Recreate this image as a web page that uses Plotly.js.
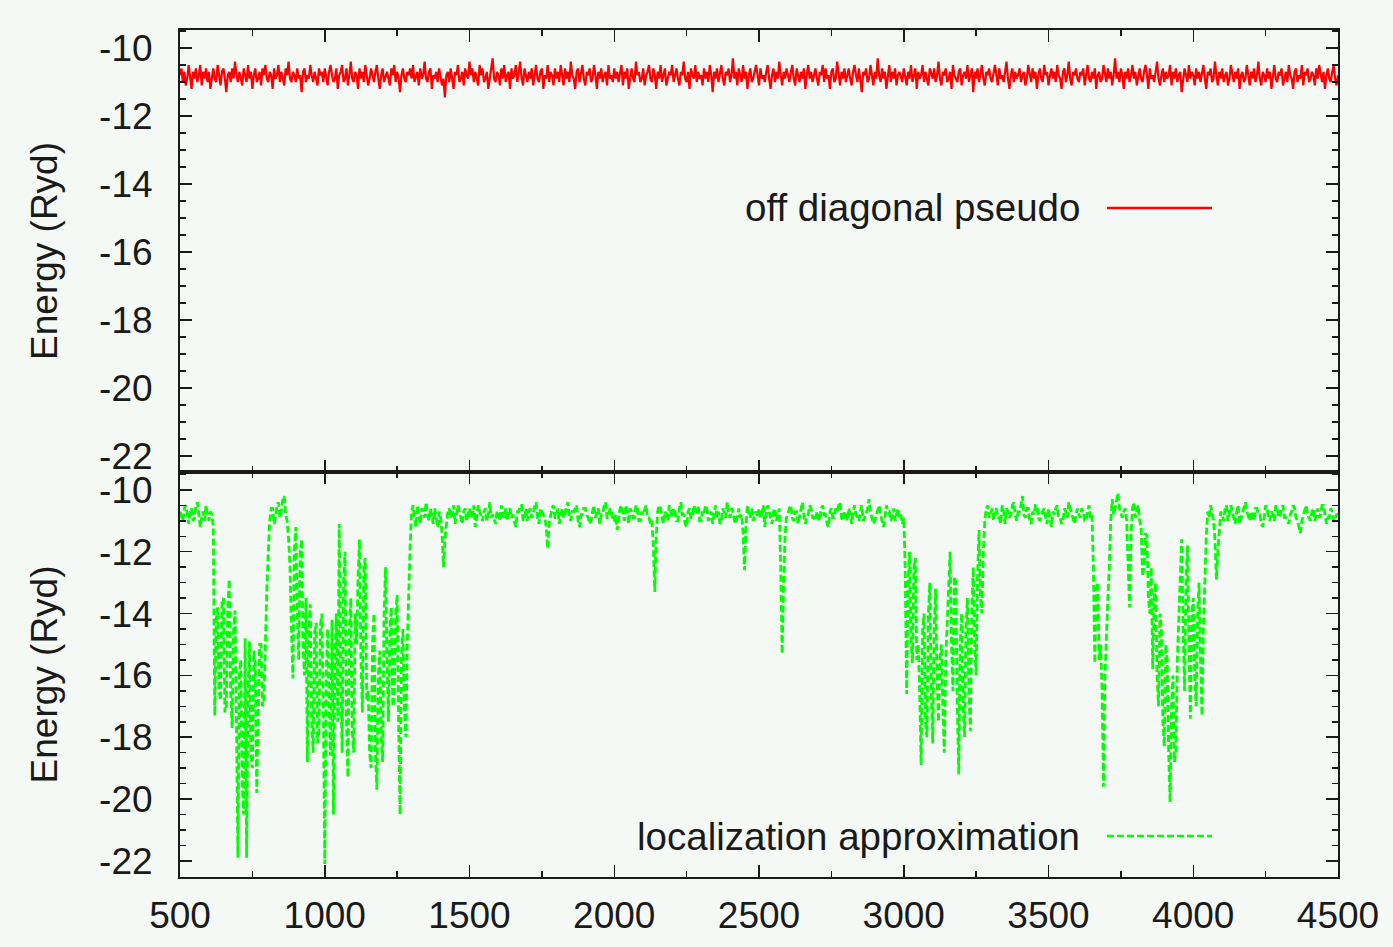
<!DOCTYPE html>
<html>
<head>
<meta charset="utf-8">
<script src="https://cdn.plot.ly/plotly-3.0.1.min.js"></script>
<style>
html,body{margin:0;padding:0;background:#f5f9f6;}
#chart{width:1393px;height:947px;}
</style>
</head>
<body>
<div id="chart"></div>
<script>
// x sampling of both series
const xStart = 500;
const xStep = 5;

// "off diagonal pseudo" energies (Ryd), x = 500..4500 step 5 (one row = 100 x-units)
const offDiagonalPseudo = [
-10.8,-10.6,-11.0,-10.7,-11.1,-10.9,-10.5,-10.8,-11.2,-10.7,-10.9,-10.6,-11.0,-10.8,-10.5,-11.1,-10.7,-10.9,-10.6,-11.0,
-10.7,-11.2,-10.8,-10.6,-10.9,-11.0,-10.5,-10.8,-11.1,-10.7,-10.6,-10.9,-11.3,-10.8,-10.7,-11.0,-10.6,-10.9,-10.4,-10.8,
-11.0,-10.7,-10.9,-11.1,-10.6,-10.8,-11.0,-10.5,-10.9,-10.7,-11.2,-10.8,-10.6,-11.0,-10.9,-10.7,-11.1,-10.6,-10.8,-10.5,
-10.9,-11.0,-10.7,-10.8,-11.2,-10.6,-10.9,-10.8,-10.5,-11.0,-10.7,-10.9,-11.1,-10.6,-10.8,-10.4,-10.9,-11.0,-10.7,-10.8,
-11.0,-10.6,-10.9,-10.8,-11.3,-10.7,-10.6,-11.0,-10.8,-10.9,-10.5,-10.8,-11.0,-10.7,-10.9,-11.1,-10.6,-10.8,-10.7,-11.0,
-10.6,-10.9,-11.1,-10.7,-10.5,-10.8,-11.0,-10.9,-10.6,-11.2,-10.8,-10.7,-10.5,-11.0,-10.9,-10.6,-11.1,-10.8,-10.4,-10.9,
-11.0,-10.7,-10.8,-11.2,-10.6,-10.9,-10.7,-11.0,-10.5,-10.8,-11.1,-10.9,-10.6,-10.8,-11.0,-10.7,-10.5,-10.9,-11.2,-10.8,
-10.6,-11.0,-10.8,-10.7,-10.9,-11.1,-10.6,-10.8,-10.5,-11.0,-10.7,-10.9,-11.3,-10.8,-10.6,-10.9,-11.0,-10.7,-10.8,-10.6,
-10.9,-10.5,-11.0,-10.8,-10.7,-11.1,-10.6,-10.9,-10.8,-10.4,-10.9,-11.0,-10.7,-10.6,-11.2,-10.8,-10.9,-10.7,-11.0,-10.6,
-10.8,-11.1,-10.9,-11.45,-10.8,-10.7,-11.0,-10.6,-10.9,-11.2,-10.7,-10.8,-10.5,-11.0,-10.9,-10.7,-11.1,-10.6,-10.8,-10.9,
-10.4,-10.8,-10.6,-11.0,-10.7,-10.9,-11.1,-10.5,-10.8,-10.6,-11.0,-10.9,-10.7,-11.2,-10.8,-10.6,-10.3,-10.9,-11.0,-10.7,
-10.8,-11.1,-10.6,-10.9,-10.5,-11.0,-10.8,-10.7,-11.2,-10.6,-10.9,-10.8,-10.5,-11.0,-10.7,-10.4,-10.9,-11.1,-10.6,-10.8,
-11.0,-10.7,-10.9,-10.6,-11.1,-10.8,-10.5,-10.9,-11.0,-10.7,-10.6,-11.2,-10.8,-10.9,-10.5,-11.0,-10.7,-10.8,-11.1,-10.6,
-10.9,-10.7,-11.0,-10.5,-10.8,-11.1,-10.6,-10.9,-10.7,-11.0,-10.4,-10.8,-10.9,-11.2,-10.7,-10.6,-11.0,-10.8,-10.5,-10.9,
-11.1,-10.7,-10.8,-10.6,-11.0,-10.9,-10.5,-10.8,-11.2,-10.7,-10.9,-10.6,-11.0,-10.8,-10.7,-11.1,-10.5,-10.9,-10.8,-11.0,
-10.6,-10.9,-10.7,-11.0,-10.8,-10.5,-11.1,-10.7,-10.9,-10.6,-11.2,-10.8,-10.6,-10.9,-11.0,-10.4,-10.8,-10.7,-11.0,-10.9,
-10.6,-11.1,-10.8,-10.7,-10.5,-10.9,-11.0,-10.6,-10.8,-11.2,-10.7,-10.9,-10.5,-11.0,-10.8,-10.6,-11.1,-10.9,-10.7,-10.8,
-10.5,-11.0,-10.8,-10.6,-10.9,-11.1,-10.7,-10.8,-10.4,-10.9,-11.0,-10.7,-11.2,-10.6,-10.8,-10.9,-10.5,-11.0,-10.7,-10.9,
-10.8,-11.1,-10.6,-10.9,-10.7,-11.0,-10.5,-10.8,-11.3,-10.7,-10.9,-10.6,-11.0,-10.8,-10.5,-10.9,-11.1,-10.7,-10.8,-10.6,
-11.0,-10.8,-10.3,-10.9,-10.7,-11.1,-10.6,-10.8,-11.0,-10.5,-10.9,-10.7,-11.2,-10.8,-10.6,-11.0,-10.9,-10.7,-10.5,-10.8,
-11.1,-10.6,-10.9,-10.8,-11.0,-10.7,-10.5,-10.9,-11.2,-10.8,-10.6,-11.0,-10.7,-10.9,-10.4,-10.8,-11.1,-10.7,-10.9,-10.6,
-10.8,-11.0,-10.7,-10.5,-10.9,-11.1,-10.6,-10.8,-11.0,-10.7,-10.9,-10.6,-11.2,-10.8,-10.5,-10.9,-10.7,-11.0,-10.8,-10.6,
-10.9,-11.1,-10.7,-10.8,-10.5,-11.0,-10.6,-10.9,-10.8,-11.2,-10.7,-10.6,-11.0,-10.9,-10.4,-10.8,-11.1,-10.7,-10.9,-10.6,
-11.0,-10.8,-10.6,-10.9,-11.1,-10.7,-10.5,-10.8,-11.0,-10.6,-10.9,-11.3,-10.7,-10.8,-10.6,-11.0,-10.9,-10.5,-10.8,-11.1,
-10.7,-10.9,-10.3,-10.8,-11.0,-10.6,-10.9,-10.7,-11.2,-10.8,-10.5,-11.0,-10.7,-10.9,-10.6,-11.1,-10.8,-10.7,-10.9,-11.0,
-10.6,-10.8,-11.1,-10.7,-10.9,-10.5,-11.0,-10.8,-10.6,-11.2,-10.7,-10.9,-10.8,-10.5,-11.0,-10.7,-10.9,-11.1,-10.6,-10.8,
-10.9,-10.6,-11.0,-10.8,-10.4,-10.9,-11.1,-10.7,-10.8,-10.6,-11.0,-10.9,-10.7,-11.2,-10.5,-10.8,-10.9,-11.0,-10.7,-10.6,
-11.1,-10.8,-10.7,-10.9,-10.5,-11.0,-10.8,-10.6,-11.3,-10.7,-10.9,-10.6,-11.0,-10.8,-10.5,-10.9,-11.1,-10.7,-10.8,-10.6,
-10.9,-11.0,-10.7,-10.5,-10.8,-11.1,-10.6,-10.9,-10.8,-11.0,-10.7,-10.4,-10.9,-11.2,-10.8,-10.6,-11.0,-10.7,-10.9,-10.8,
-10.6,-11.0,-10.8,-10.7,-11.1,-10.9,-10.5,-10.8,-11.0,-10.6,-10.9,-10.7,-11.2,-10.8,-10.6,-10.9,-11.0,-10.5,-10.8,-10.7,
-11.1,-10.8,-10.6,-10.9,-10.7,-11.0,-10.5,-10.8,-10.9,-11.2,-10.7,-10.6,-11.0,-10.8,-10.4,-10.9,-11.1,-10.7,-10.8,-10.6,
-10.9,-11.0,-10.7,-10.8,-10.6,-11.1,-10.8,-10.5,-10.9,-11.0,-10.7,-10.9,-10.6,-11.2,-10.8,-10.7,-11.0,-10.9,-10.5,-10.8,
-11.0,-10.6,-10.9,-10.7,-11.1,-10.8,-10.3,-10.9,-10.7,-11.0,-10.6,-10.8,-11.2,-10.7,-10.9,-10.6,-11.0,-10.8,-10.5,-10.9,
-10.7,-11.1,-10.8,-10.6,-10.9,-11.0,-10.7,-10.5,-10.8,-11.2,-10.6,-10.9,-10.8,-11.0,-10.7,-10.4,-10.9,-11.1,-10.8,-10.6,
-11.0,-10.7,-10.9,-10.8,-10.5,-11.1,-10.7,-10.9,-10.6,-11.0,-10.8,-10.7,-11.3,-10.9,-10.6,-10.8,-11.0,-10.5,-10.9,-10.7,
-10.8,-11.1,-10.6,-10.9,-10.7,-11.0,-10.8,-10.5,-10.9,-11.2,-10.7,-10.8,-10.6,-11.0,-10.9,-10.4,-10.8,-11.1,-10.7,-10.9,
-10.6,-11.0,-10.8,-10.7,-11.1,-10.9,-10.5,-10.8,-11.0,-10.7,-10.9,-10.6,-11.2,-10.8,-10.7,-11.0,-10.9,-10.5,-10.8,-11.1,
-10.7,-10.9,-10.6,-11.0,-10.8,-10.4,-10.9,-11.1,-10.7,-10.8,-11.0,-10.6,-10.9,-10.7,-11.2,-10.8,-10.5,-10.9,-11.0,-10.7,
-10.8,-10.6,-11.1,-10.9,-10.7,-11.0,-10.5,-10.8,-10.9,-11.2,-10.7,-10.6,-11.0,-10.8,-10.9,-10.5,-11.1,-10.7,-10.8,-10.6,
-11.0,-10.9,-10.7,-10.8,-11.1,-10.6,-10.9,-10.5,-10.8,-11.0,-10.7,-11.2,-10.8,-10.6,-10.9,-11.0,-10.7,-10.5,-10.9,-11.1,
-10.8
];

// "localization approximation" energies (Ryd), x = 500..4500 step 5 (one row = 100 x-units)
const localizationApprox = [
-10.7,-10.9,-11.0,-10.6,-10.5,-10.8,-11.1,-10.7,-10.6,-11.0,-10.9,-10.5,-10.4,-10.8,-11.2,-10.9,-10.7,-11.0,-10.5,-10.8,
-11.0,-10.7,-10.8,-11.2,-17.3,-14.2,-13.8,-16.5,-16.8,-13.6,-13.5,-17.2,-17.0,-13.8,-12.9,-16.5,-17.7,-14.5,-13.9,-17.5,
-21.9,-16.0,-15.5,-19.5,-20.5,-14.8,-21.9,-16.5,-14.9,-18.5,-19.0,-15.2,-15.6,-19.8,-17.5,-15.0,-15.0,-17.0,-16.8,-14.8,
-13.2,-12.0,-11.0,-10.6,-10.6,-11.1,-10.9,-10.5,-10.4,-10.9,-10.7,-10.3,-10.2,-10.8,-11.0,-11.6,-12.5,-14.5,-16.1,-12.0,
-11.2,-14.0,-15.5,-12.0,-11.6,-15.0,-16.0,-13.5,-18.8,-14.5,-13.7,-17.5,-18.5,-14.6,-14.3,-18.2,-17.8,-14.4,-14.0,-17.0,
-22.1,-16.0,-14.5,-17.0,-18.6,-14.2,-20.5,-15.5,-14.0,-17.5,-11.1,-16.0,-18.5,-13.0,-12.0,-17.5,-19.3,-14.5,-13.5,-17.8,
-18.5,-14.0,-15.0,-12.8,-11.6,-15.5,-17.2,-12.5,-12.2,-16.8,-16.5,-18.5,-19.0,-15.0,-14.0,-18.5,-19.7,-16.0,-15.2,-18.0,
-18.8,-14.0,-12.5,-15.5,-17.5,-14.5,-13.8,-17.0,-16.8,-14.0,-13.4,-17.5,-20.5,-15.5,-14.5,-17.0,-18.0,-15.0,-13.0,-11.8,
-10.7,-10.5,-10.9,-11.2,-10.5,-10.8,-11.1,-10.6,-10.7,-10.9,-10.4,-10.8,-11.0,-10.6,-10.8,-11.1,-10.6,-10.9,-11.2,-10.7,
-10.9,-11.4,-12.5,-11.6,-11.0,-10.7,-10.6,-10.9,-10.8,-10.5,-11.1,-10.8,-10.5,-10.7,-10.9,-11.1,-10.7,-10.6,-11.0,-10.8,
-10.6,-10.9,-10.8,-10.5,-11.2,-10.9,-10.5,-10.7,-10.9,-11.0,-10.7,-10.6,-11.0,-10.8,-10.4,-10.9,-10.8,-11.0,-11.1,-10.7,
-10.7,-11.0,-10.5,-10.8,-10.9,-10.6,-11.0,-10.7,-10.6,-10.9,-10.8,-11.0,-11.2,-10.7,-10.7,-10.5,-10.5,-11.0,-10.9,-10.6,
-11.0,-10.7,-10.6,-10.9,-10.8,-10.5,-10.4,-10.9,-11.1,-10.6,-10.7,-10.8,-10.9,-11.2,-11.9,-11.1,-10.8,-10.6,-10.5,-10.9,
-10.9,-10.6,-11.1,-10.8,-10.6,-10.9,-10.8,-10.5,-10.4,-10.9,-11.0,-10.7,-10.7,-10.6,-10.5,-11.0,-11.2,-10.8,-10.8,-10.6,
-10.6,-10.8,-10.9,-11.1,-11.0,-10.7,-10.5,-10.9,-10.7,-10.6,-11.1,-10.8,-10.8,-10.5,-10.4,-10.9,-10.9,-10.6,-10.7,-11.0,
-11.0,-10.8,-11.3,-10.9,-10.6,-10.5,-10.8,-11.0,-10.5,-10.7,-11.1,-10.6,-10.7,-10.9,-10.9,-10.5,-10.6,-11.0,-11.0,-10.7,
-10.8,-10.6,-10.5,-10.9,-10.9,-11.1,-11.0,-11.8,-13.3,-11.5,-10.7,-10.5,-10.6,-10.9,-11.1,-10.7,-10.8,-11.0,-10.5,-10.7,
-10.9,-10.6,-10.7,-11.0,-11.0,-10.6,-10.4,-10.8,-10.8,-11.1,-11.2,-10.7,-10.6,-10.9,-10.9,-10.5,-10.7,-10.8,-10.5,-11.0,
-11.0,-10.7,-10.8,-10.5,-10.6,-11.0,-10.9,-10.7,-11.1,-10.8,-10.5,-10.9,-10.7,-11.1,-11.0,-10.6,-10.8,-10.9,-10.4,-10.8,
-10.9,-10.6,-10.7,-11.0,-11.1,-10.8,-10.6,-10.9,-10.8,-11.4,-12.6,-11.2,-10.5,-10.8,-10.9,-10.6,-11.0,-10.8,-10.7,-10.9,
-10.6,-10.9,-10.8,-10.5,-11.2,-10.8,-10.5,-10.7,-10.9,-11.1,-10.7,-10.6,-11.0,-10.8,-10.6,-12.5,-15.3,-13.0,-11.5,-10.9,
-10.8,-10.6,-10.5,-10.9,-11.0,-10.7,-10.7,-11.1,-10.9,-10.6,-10.4,-10.8,-11.1,-10.9,-10.8,-10.5,-10.6,-10.9,-10.9,-11.0,
-10.7,-10.9,-11.0,-10.6,-10.5,-10.8,-10.8,-11.1,-11.2,-10.7,-10.6,-10.9,-10.9,-10.6,-10.7,-10.5,-10.4,-10.9,-11.0,-10.7,
-10.8,-11.0,-10.6,-10.8,-11.1,-10.7,-10.5,-10.8,-10.9,-11.0,-10.7,-10.5,-11.0,-10.9,-10.8,-10.6,-10.3,-10.7,-10.9,-11.1,
-11.0,-10.8,-10.6,-10.5,-10.8,-11.0,-11.2,-10.9,-10.5,-10.7,-10.7,-11.0,-10.9,-10.6,-11.0,-10.8,-10.6,-10.9,-10.8,-11.1,
-10.9,-12.5,-16.6,-13.0,-12.0,-14.8,-15.6,-12.5,-12.2,-15.5,-15.0,-16.5,-18.9,-14.5,-14.0,-17.5,-18.0,-14.0,-13.0,-16.5,
-18.2,-14.5,-13.2,-16.0,-17.5,-15.5,-15.0,-17.0,-18.5,-15.5,-14.5,-13.0,-12.0,-15.0,-16.5,-12.8,-13.0,-17.0,-19.2,-15.0,
-14.0,-17.0,-18.0,-14.5,-13.5,-16.5,-17.8,-14.0,-12.5,-15.0,-16.0,-12.8,-11.3,-13.5,-14.0,-12.0,-11.0,-10.6,-10.5,-10.9,
-10.8,-10.6,-11.0,-10.7,-10.6,-10.9,-10.9,-11.1,-10.5,-10.7,-11.1,-10.6,-10.7,-10.9,-10.8,-10.5,-10.4,-10.8,-11.0,-10.7,
-10.7,-10.5,-10.2,-10.8,-10.9,-10.6,-10.6,-11.0,-11.1,-10.7,-10.8,-10.5,-10.5,-10.9,-11.0,-10.8,-10.7,-10.6,-10.9,-11.1,
-10.6,-10.9,-11.2,-10.7,-10.8,-10.6,-10.5,-10.9,-10.9,-11.1,-11.0,-10.6,-10.7,-10.9,-10.4,-10.6,-10.8,-11.0,-11.1,-10.8,
-10.6,-10.8,-10.9,-10.6,-10.7,-11.0,-11.0,-10.7,-10.5,-10.9,-10.8,-12.5,-15.6,-13.2,-13.0,-15.5,-15.0,-16.5,-19.6,-16.0,
-14.5,-13.5,-12.5,-11.0,-10.3,-10.8,-10.6,-10.4,-10.1,-10.6,-10.8,-10.9,-10.7,-10.6,-11.0,-12.5,-13.8,-11.5,-10.6,-10.4,
-10.9,-10.7,-10.5,-11.0,-11.2,-12.8,-12.5,-11.4,-11.5,-13.5,-14.0,-12.5,-15.8,-13.5,-13.0,-16.0,-17.0,-14.0,-14.5,-17.5,
-18.3,-15.0,-15.5,-18.5,-20.1,-17.0,-16.0,-18.8,-18.5,-15.5,-14.0,-12.5,-11.6,-14.5,-16.5,-13.0,-11.8,-15.0,-17.4,-14.0,
-13.5,-16.0,-17.0,-14.0,-13.0,-15.5,-17.3,-14.5,-12.8,-11.5,-10.7,-10.9,-10.5,-10.8,-11.0,-11.6,-12.9,-12.0,-11.3,-10.7,
-10.8,-11.0,-10.6,-10.5,-11.0,-10.8,-10.5,-10.7,-10.9,-11.1,-10.7,-10.5,-11.1,-10.9,-10.8,-10.6,-10.4,-10.7,-10.9,-11.0,
-10.7,-10.9,-11.0,-10.6,-10.6,-10.8,-10.8,-11.1,-11.2,-10.9,-10.5,-10.6,-10.9,-11.0,-10.7,-10.8,-11.0,-10.5,-10.6,-10.9,
-10.8,-10.6,-10.5,-10.9,-10.9,-11.0,-11.1,-10.8,-10.7,-10.5,-10.6,-10.9,-11.0,-11.2,-11.4,-11.0,-10.8,-10.7,-10.5,-10.8,
-10.9,-11.0,-10.7,-10.6,-11.0,-10.8,-10.6,-10.9,-10.8,-10.5,-10.5,-10.8,-11.1,-10.9,-10.9,-10.6,-10.7,-11.0,-11.0,-10.8,
-10.8
];

const seriesNames = ["off diagonal pseudo", "localization approximation"];
const yTitle = "Energy (Ryd)";
const xTickVals = [500, 1000, 1500, 2000, 2500, 3000, 3500, 4000, 4500];
const yTickVals = [-10, -12, -14, -16, -18, -20, -22];

const xs1 = offDiagonalPseudo.map((_, i) => xStart + i * xStep);
const xs2 = localizationApprox.map((_, i) => xStart + i * xStep);

const FONT = "Liberation Sans, Arial, Helvetica, sans-serif";
const INK = "#1a1a1a";
const BG = "#f5f9f6";

const traces = [
  {x: xs1, y: offDiagonalPseudo, xaxis: "x2", yaxis: "y2", type: "scatter", mode: "lines",
   name: seriesNames[0], line: {color: "#ff0000", width: 2.2}, showlegend: false},
  {x: xs2, y: localizationApprox, xaxis: "x", yaxis: "y", type: "scatter", mode: "lines",
   name: seriesNames[1], line: {color: "#00ff00", width: 2.8, dash: "7px,3px"}, showlegend: false}
];

function yAxis(domain, range) {
  return {
    domain: domain, range: range, tickvals: yTickVals, ticktext: yTickVals.map(String),
    ticks: "inside", ticklen: 12, tickwidth: 1.5, tickcolor: INK,
    minor: {dtick: 0.5, tick0: -10, ticks: "inside", ticklen: 6, tickwidth: 1.5, tickcolor: INK},
    showline: true, linecolor: INK, linewidth: 2, mirror: "ticks",
    showgrid: false, zeroline: false,
    tickfont: {family: FONT, size: 37, color: INK},
    ticklabelstandoff: 18,
    title: {text: yTitle, font: {family: FONT, size: 37, color: INK}, standoff: 30}
  };
}

function xAxis(anchor, labels) {
  return {
    anchor: anchor, range: [500, 4500], tickvals: xTickVals, ticktext: xTickVals.map(String),
    showticklabels: labels,
    ticks: "inside", ticklen: 12, tickwidth: 1.5, tickcolor: INK,
    minor: {dtick: 250, tick0: 500, ticks: "inside", ticklen: 6, tickwidth: 1.5, tickcolor: INK},
    showline: true, linecolor: INK, linewidth: 2, mirror: "ticks",
    showgrid: false, zeroline: false,
    tickfont: {family: FONT, size: 37, color: INK},
    ticklabelstandoff: 5
  };
}

const split = 0.4782;

const layout = {
  width: 1393, height: 947,
  paper_bgcolor: BG, plot_bgcolor: BG,
  margin: {l: 180, r: 55, t: 30, b: 70},
  showlegend: false,
  xaxis: xAxis("y", true),
  xaxis2: Object.assign(xAxis("y2", false), {matches: "x"}),
  yaxis: yAxis([0, split], [-22.52, -9.42]),
  yaxis2: yAxis([split, 1], [-22.47, -9.47]),
  annotations: [
    {xref: "x2 domain", yref: "y2 domain", x: 0.7789, y: 0.5973, xanchor: "right", yanchor: "middle",
     text: seriesNames[0], showarrow: false, font: {family: FONT, size: 38.5, color: INK}},
    {xref: "x domain", yref: "y domain", x: 0.7789, y: 0.1012, xanchor: "right", yanchor: "middle",
     text: seriesNames[1], showarrow: false, font: {family: FONT, size: 38.5, color: INK}}
  ],
  shapes: [
    {type: "line", xref: "x2 domain", yref: "y2 domain", x0: 0.8005, x1: 0.8912, y0: 0.5973, y1: 0.5973,
     line: {color: "#ff0000", width: 2.5}},
    {type: "line", xref: "x domain", yref: "y domain", x0: 0.8005, x1: 0.8912, y0: 0.1012, y1: 0.1012,
     line: {color: "#00ff00", width: 2.5, dash: "7px,3px"}}
  ]
};

Plotly.newPlot("chart", traces, layout, {displayModeBar: false, staticPlot: true});
</script>
</body>
</html>
